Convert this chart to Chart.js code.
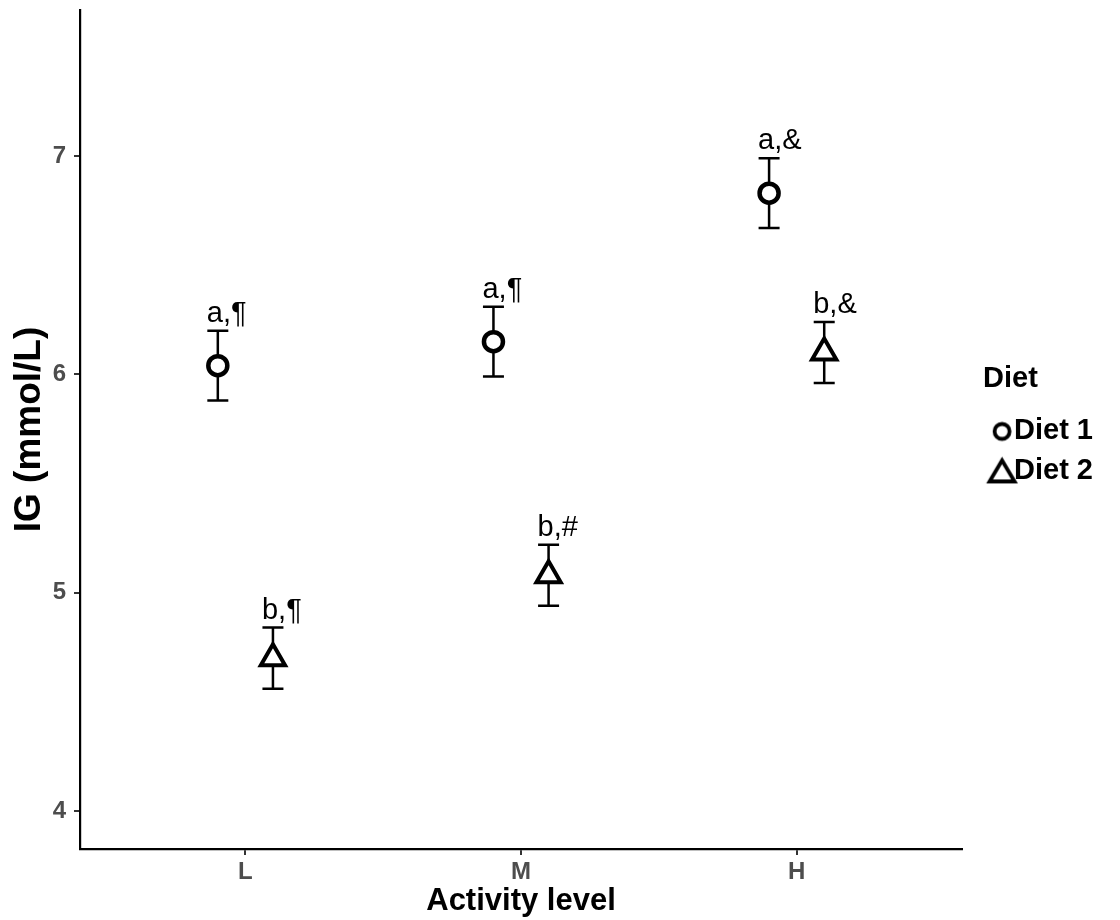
<!DOCTYPE html>
<html lang="en">
<head>
  <meta charset="UTF-8">
  <title>IG by activity level and diet</title>
  <script src="https://cdn.jsdelivr.net/npm/chart.js"></script>
  <style>
    body {
      margin: 0;
      background-color: #ffffff;
    }
    .chart-box {
      width: 1120px;
      height: 920px;
    }
  </style>
</head>
<body>
  <div class="chart-box">
    <canvas id="igChart"></canvas>
  </div>

  <script>
    // Data
    const categories = ['L', 'M', 'H'];
    const yTicks = [4, 5, 6, 7];
    const diet1Mean = [6.04, 6.15, 6.83];
    const diet1Se = [0.16, 0.16, 0.16];
    const diet2Mean = [4.70, 5.08, 6.10];
    const diet2Se = [0.14, 0.14, 0.14];
    const diet1Labels = ['a,¶', 'a,¶', 'a,&'];
    const diet2Labels = ['b,¶', 'b,#', 'b,&'];

    const dodge = 0.1;
    const font = '"Liberation Sans", Arial, sans-serif';

    function points(means, shift) {
      return means.map((m, i) => ({ x: i + 1 + shift, y: m }));
    }

    // legend marker images (marker sits right of the image centre)
    function markerCanvas(kind) {
      const c = document.createElement('canvas');
      c.width = 64; c.height = 34;
      const g = c.getContext('2d');
      const cx = 32 + 5.25, cy = 17;
      g.strokeStyle = '#000';
      g.lineWidth = 3.8;
      g.lineJoin = 'miter';
      g.beginPath();
      if (kind === 'circle') {
        g.arc(cx, cy, 7.5, 0, Math.PI * 2);
      } else {
        g.moveTo(cx, cy - 11);
        g.lineTo(cx + 12.5, cy + 10);
        g.lineTo(cx - 12.5, cy + 10);
        g.closePath();
      }
      g.stroke();
      return c;
    }
    const legendMarkers = [markerCanvas('circle'), markerCanvas('triangle')];

    // ggplot puts the legend a bit off the panel edge
    const legendNudge = {
      id: 'legendNudge',
      afterLayout(chart) {
        if (chart.legend) {
          chart.legend.left += 21;
          chart.legend.right += 21;
        }
      }
    };

    // error bars + letters, drawn through the scales
    const errorBars = {
      id: 'errorBars',
      beforeDatasetsDraw(chart) {
        const { ctx, scales: { x, y } } = chart;
        const sets = [[diet1Mean, diet1Se, -dodge], [diet2Mean, diet2Se, dodge]];
        ctx.save();
        ctx.strokeStyle = '#000';
        ctx.lineWidth = 2.5;
        sets.forEach(([means, se, shift]) => {
          means.forEach((m, i) => {
            const px = x.getPixelForValue(i + 1 + shift);
            const top = y.getPixelForValue(m + se[i]);
            const bot = y.getPixelForValue(m - se[i]);
            ctx.beginPath();
            ctx.moveTo(px, top); ctx.lineTo(px, bot);
            ctx.moveTo(px - 10.5, top); ctx.lineTo(px + 10.5, top);
            ctx.moveTo(px - 10.5, bot); ctx.lineTo(px + 10.5, bot);
            ctx.stroke();
          });
        });
        ctx.restore();
      },
      afterDatasetsDraw(chart) {
        const { ctx, scales: { x, y } } = chart;
        const sets = [[diet1Mean, diet1Se, diet1Labels, -dodge], [diet2Mean, diet2Se, diet2Labels, dodge]];
        ctx.save();
        ctx.fillStyle = '#000';
        ctx.font = '29px ' + font;
        ctx.textAlign = 'left';
        ctx.textBaseline = 'alphabetic';
        sets.forEach(([means, se, labels, shift]) => {
          means.forEach((m, i) => {
            const px = x.getPixelForValue(i + 1 + shift);
            const top = y.getPixelForValue(m + se[i]);
            ctx.fillText(labels[i], px - 11, top - 9);
          });
        });
        ctx.restore();
      }
    };

    const ctx = document.getElementById('igChart').getContext('2d');

    new Chart(ctx, {
      type: 'scatter',
      data: {
        datasets: [
          {
            label: 'Diet 1',
            data: points(diet1Mean, -dodge),
            pointStyle: 'circle',
            radius: 9.5,
            hoverRadius: 9.5,
            borderWidth: 4.5,
            borderColor: '#000',
            backgroundColor: '#fff'
          },
          {
            label: 'Diet 2',
            data: points(diet2Mean, dodge),
            pointStyle: 'triangle',
            radius: 14,
            hoverRadius: 14,
            borderWidth: 4,
            borderColor: '#000',
            backgroundColor: '#fff'
          }
        ]
      },
      options: {
        responsive: true,
        maintainAspectRatio: false,
        animation: false,
        layout: {
          autoPadding: false,
          padding: { top: 10, right: 38, left: 0, bottom: 0 }
        },
        plugins: {
          tooltip: { enabled: false },
          legend: {
            position: 'right',
            align: 'center',
            fullSize: false,
            title: {
              display: true,
              text: 'Diet',
              position: 'start',
              color: '#000',
              font: { family: font, size: 29, weight: 'bold' },
              padding: { top: 2, bottom: 7 }
            },
            labels: {
              color: '#000',
              font: { family: font, size: 29, weight: 'bold' },
              usePointStyle: true,
              pointStyleWidth: 5.5,
              padding: 11,
              generateLabels(chart) {
                return chart.data.datasets.map((ds, i) => ({
                  text: ds.label,
                  pointStyle: legendMarkers[i],
                  fillStyle: '#fff',
                  strokeStyle: '#000',
                  lineWidth: 0,
                  fontColor: '#000',
                  datasetIndex: i,
                  hidden: false
                }));
              }
            }
          }
        },
        scales: {
          x: {
            type: 'linear',
            min: 0.4,
            max: 3.6,
            afterBuildTicks(scale) {
              scale.ticks = categories.map((c, i) => ({ value: i + 1 }));
            },
            afterFit(scale) {
              scale.height = 71;
              scale.paddingLeft = 0;
              scale.paddingRight = 0;
            },
            ticks: {
              callback: (v) => categories[v - 1],
              color: '#4d4d4d',
              font: { family: font, size: 24, weight: 'bold' },
              padding: 3,
              maxRotation: 0
            },
            grid: {
              drawOnChartArea: false,
              drawTicks: true,
              tickLength: 6,
              color: '#333',
              lineWidth: 2
            },
            border: { display: true, color: '#000', width: 2.2 },
            title: {
              display: true,
              text: 'Activity level',
              color: '#000',
              font: { family: font, size: 31, weight: 'bold' },
              padding: { top: 0, bottom: 0 }
            }
          },
          y: {
            min: 3.826,
            max: 7.669,
            afterBuildTicks(scale) {
              scale.ticks = yTicks.map(v => ({ value: v }));
            },
            afterFit(scale) {
              scale.width = 80;
              scale.paddingTop = 0;
              scale.paddingBottom = 0;
            },
            ticks: {
              color: '#4d4d4d',
              font: { family: font, size: 24, weight: 'bold' },
              padding: 8
            },
            grid: {
              drawOnChartArea: false,
              drawTicks: true,
              tickLength: 6,
              color: '#333',
              lineWidth: 2
            },
            border: { display: true, color: '#000', width: 2.2 },
            title: {
              display: true,
              text: 'IG (mmol/L)',
              color: '#000',
              font: { family: font, size: 37, weight: 'bold' },
              padding: { top: 8, bottom: 0 }
            }
          }
        }
      },
      plugins: [errorBars, legendNudge]
    });
  </script>
</body>
</html>
